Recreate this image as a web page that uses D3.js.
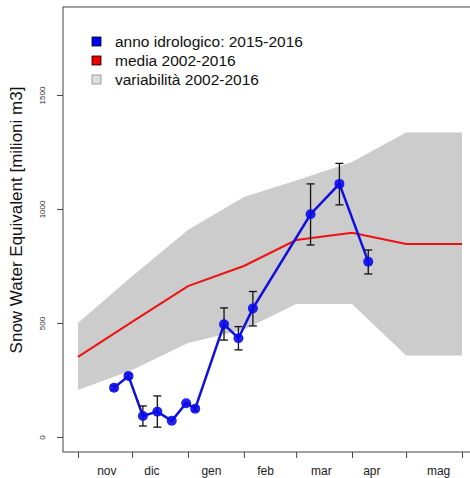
<!DOCTYPE html>
<html>
<head>
<meta charset="utf-8">
<script src="https://cdn.jsdelivr.net/npm/d3@7"></script>
<style>
  body { margin: 0; background: #fff; }
  svg { display: block; font-family: "Liberation Sans", Arial, sans-serif; }
</style>
</head>
<body>
<script>
const fullWidth = 470
const fullHeight = 478
const margin = { top: 7, right: -6, bottom: 26, left: 63 }

// month boundaries and labels
const monthTicks = ['2015-11-01', '2015-12-01', '2016-01-01', '2016-02-01', '2016-03-01', '2016-04-01', '2016-05-01', '2016-06-01']
const monthLabels = ['nov', 'dic', 'gen', 'feb', 'mar', 'apr', 'mag']
const labelDates = ['2015-11-17', '2015-12-12', '2016-01-14', '2016-02-13', '2016-03-15', '2016-04-12', '2016-05-19']
const yTicks = [0, 500, 1000, 1500]

// climatology (2002-2016)
const climDates = ['2015-11-01', '2015-12-01', '2016-01-01', '2016-02-01', '2016-03-01', '2016-04-01', '2016-05-01', '2016-06-01']
const mediaValues = [351, 505, 662, 750, 864, 896, 846, 846]
const maxValues = [500, 705, 908, 1053, 1125, 1206, 1335, 1335]
const minValues = [206, 294, 412, 470, 583, 583, 357, 357]

// hydrological year 2015-2016
const obsDates = ['2015-11-21', '2015-11-29', '2015-12-07', '2015-12-15', '2015-12-23', '2015-12-31', '2016-01-05', '2016-01-21', '2016-01-29', '2016-02-06', '2016-03-09', '2016-03-25', '2016-04-10']
const obsValues = [216, 267, 92, 111, 71, 148, 124, 494, 433, 564, 977, 1110, 769]
const obsLow = [206, 257, 48, 43, null, null, 114, 425, 382, 487, 842, 1018, 715]
const obsHigh = [226, 277, 136, 180, null, null, 134, 566, 484, 638, 1110, 1200, 820]

const legendItems = ['anno idrologico: 2015-2016', 'media 2002-2016', 'variabilità 2002-2016']
const legendFills = ['#0000ee', '#ee0000', '#dedede']
const legendStrokes = ['#000', '#000', '#888']

const parse = d3.timeParse('%Y-%m-%d')

const svg = d3.select('body')
  .append('svg')
  .attr('width', fullWidth)
  .attr('height', fullHeight)

const x = d3.scaleTime()
  .domain([parse('2015-11-01'), parse('2016-06-01')])
  .range([78, 462])

const y = d3.scaleLinear()
  .domain([-66, 1886])
  .range([fullHeight - margin.bottom, margin.top])

// ---------------Variability band---------------
const clim = climDates.map((d, i) => ({ date: parse(d), mean: mediaValues[i], lo: minValues[i], hi: maxValues[i] }))

svg.append('path')
  .datum(clim)
  .attr('fill', '#cccccc')
  .attr('d', d3.area().x(d => x(d.date)).y0(d => y(d.lo)).y1(d => y(d.hi)))

svg.append('path')
  .datum(clim)
  .attr('fill', 'none')
  .attr('stroke', '#ee1111')
  .attr('stroke-width', 2)
  .attr('d', d3.line().x(d => x(d.date)).y(d => y(d.mean)))

// ---------------Observations---------------
const obs = obsDates.map((d, i) => ({ date: parse(d), v: obsValues[i], lo: obsLow[i], hi: obsHigh[i] }))

svg.append('path')
  .datum(obs)
  .attr('fill', 'none')
  .attr('stroke', '#1010dd')
  .attr('stroke-width', 2.5)
  .attr('d', d3.line().x(d => x(d.date)).y(d => y(d.v)))

const bars = svg.append('g')
  .attr('stroke', '#111')
  .attr('stroke-width', 1.3)
  .selectAll('g')
  .data(obs.filter(d => d.lo !== null))
  .enter().append('g')

bars.append('line')
  .attr('x1', d => x(d.date)).attr('x2', d => x(d.date))
  .attr('y1', d => y(d.lo)).attr('y2', d => y(d.hi))
bars.append('line')
  .attr('x1', d => x(d.date) - 4).attr('x2', d => x(d.date) + 4)
  .attr('y1', d => y(d.lo)).attr('y2', d => y(d.lo))
bars.append('line')
  .attr('x1', d => x(d.date) - 4).attr('x2', d => x(d.date) + 4)
  .attr('y1', d => y(d.hi)).attr('y2', d => y(d.hi))

svg.append('g')
  .selectAll('circle')
  .data(obs)
  .enter().append('circle')
  .attr('cx', d => x(d.date))
  .attr('cy', d => y(d.v))
  .attr('r', 5)
  .attr('fill', '#0a0aee')
  .attr('fill-opacity', 0.9)

// ---------------Box and axes---------------
svg.append('rect')
  .attr('x', margin.left)
  .attr('y', margin.top)
  .attr('width', fullWidth - margin.left - margin.right)
  .attr('height', fullHeight - margin.top - margin.bottom)
  .attr('fill', 'none')
  .attr('stroke', '#444')

const yAxis = svg.append('g')
  .attr('transform', `translate(${margin.left},0)`)
  .call(d3.axisLeft(y).tickValues(yTicks).tickSize(6).tickFormat(d3.format('d')))
yAxis.select('.domain').remove()
yAxis.selectAll('.tick line').attr('stroke', '#444')
yAxis.selectAll('.tick text')
  .attr('x', 0).attr('y', 0).attr('dy', 0)
  .attr('text-anchor', 'middle')
  .attr('transform', 'translate(-18,0) rotate(-90)')
  .attr('font-size', 8)
  .attr('fill', '#333')

const xAxis = svg.append('g')
  .attr('transform', `translate(0,${fullHeight - margin.bottom})`)
  .call(d3.axisBottom(x).tickValues(monthTicks.map(parse)).tickSize(6).tickFormat(''))
xAxis.select('.domain').remove()
xAxis.selectAll('.tick line').attr('stroke', '#444')

svg.append('g')
  .selectAll('text')
  .data(monthLabels)
  .enter().append('text')
  .attr('x', (d, i) => x(parse(labelDates[i])))
  .attr('y', 475)
  .attr('text-anchor', 'middle')
  .attr('font-size', 12)
  .attr('fill', '#222')
  .text(d => d)

svg.append('text')
  .attr('transform', 'translate(22,220) rotate(-90)')
  .attr('text-anchor', 'middle')
  .attr('font-size', 17)
  .attr('fill', '#111')
  .text('Snow Water Equivalent [milioni m3]')

// ---------------Legend---------------
const legend = svg.append('g')
  .selectAll('g')
  .data(legendItems)
  .enter().append('g')
  .attr('transform', (d, i) => `translate(92,${41.5 + i * 19})`)

legend.append('rect')
  .attr('x', 0).attr('y', -4.5)
  .attr('width', 9).attr('height', 9)
  .attr('fill', (d, i) => legendFills[i])
  .attr('stroke', (d, i) => legendStrokes[i])
  .attr('stroke-width', 0.8)

legend.append('text')
  .attr('x', 23)
  .attr('y', 5.5)
  .attr('font-size', 15.5)
  .attr('fill', '#111')
  .text(d => d)
</script>
</body>
</html>
